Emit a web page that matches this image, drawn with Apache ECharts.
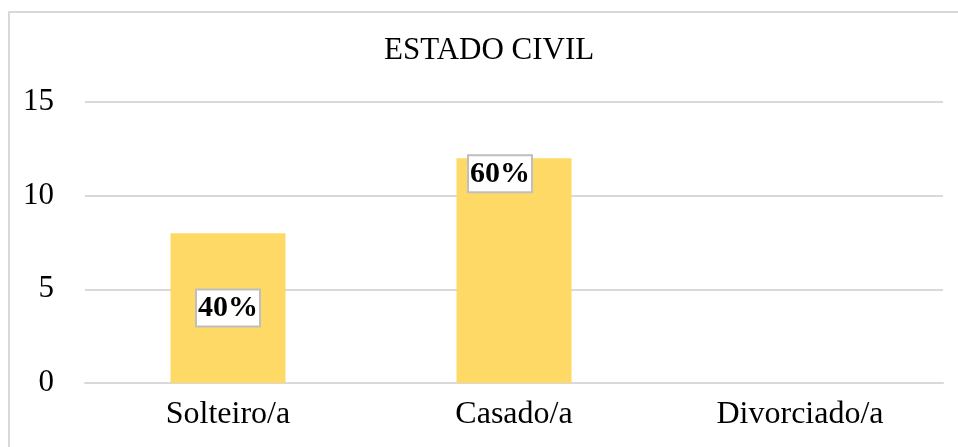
<!DOCTYPE html>
<html>
<head>
<meta charset="utf-8">
<script src="https://cdn.jsdelivr.net/npm/echarts@6/dist/echarts.min.js"></script>
<style>
  html, body { margin: 0; padding: 0; background: #fff; }
  #frame { position: absolute; left: 8px; top: 11px; width: 950px; height: 436px;
           border-top: 2px solid #d9d9d9; border-left: 2px solid #d9d9d9; }
  #main { position: absolute; left: 0; top: 0; width: 958px; height: 447px; }
</style>
</head>
<body>
<div id="frame"></div>
<div id="main"></div>
<script>
    // data
    var categories = ['Solteiro/a', 'Casado/a', 'Divorciado/a'];
    var counts = [8, 12, 0];
    var percentLabels = ['40%', '60%', ''];

    // where each label sits on its bar
    var labelPositions = ['inside', 'insideTop', 'inside'];
    var labelShifts = [[0, 0], [-14, 0], [0, 0]];

    var chart = echarts.init(document.getElementById('main'));
    var serif = '"Liberation Serif", "DejaVu Serif", serif';

    var seriesData = counts.map(function (v, i) {
        return {
            value: v,
            label: {
                show: percentLabels[i] !== '',
                position: labelPositions[i],
                offset: labelShifts[i],
                formatter: percentLabels[i]
            }
        };
    });

    var option = {
        backgroundColor: 'transparent',
        title: {
            text: 'ESTADO CIVIL',
            left: 379,
            top: 30,
            textStyle: {
                fontFamily: serif,
                fontWeight: 'normal',
                fontSize: 31,
                color: '#000'
            }
        },
        grid: {
            left: 85,
            right: 15,
            top: 102,
            bottom: 64
        },
        xAxis: {
            type: 'category',
            data: categories,
            axisLine: { lineStyle: { color: '#d9d9d9', width: 2 } },
            axisTick: { show: false },
            axisLabel: {
                fontFamily: serif,
                fontSize: 32,
                color: '#000',
                margin: 16
            }
        },
        yAxis: {
            type: 'value',
            min: 0,
            max: 15,
            interval: 5,
            axisLine: { show: false },
            axisTick: { show: false },
            splitLine: { lineStyle: { color: '#d9d9d9', width: 2 } },
            axisLabel: {
                fontFamily: serif,
                fontSize: 31,
                color: '#000',
                margin: 31
            }
        },
        series: [
            {
                type: 'bar',
                data: seriesData,
                barWidth: 115,
                itemStyle: { color: '#ffd966' },
                label: {
                    fontFamily: serif,
                    fontWeight: 'bold',
                    fontSize: 30,
                    color: '#000',
                    backgroundColor: '#fff',
                    borderColor: '#bfbfbf',
                    borderWidth: 2,
                    padding: [3, 1, 2, 1],
                    distance: -2
                }
            }
        ]
    };
    chart.setOption(option);
</script>
</body>
</html>
